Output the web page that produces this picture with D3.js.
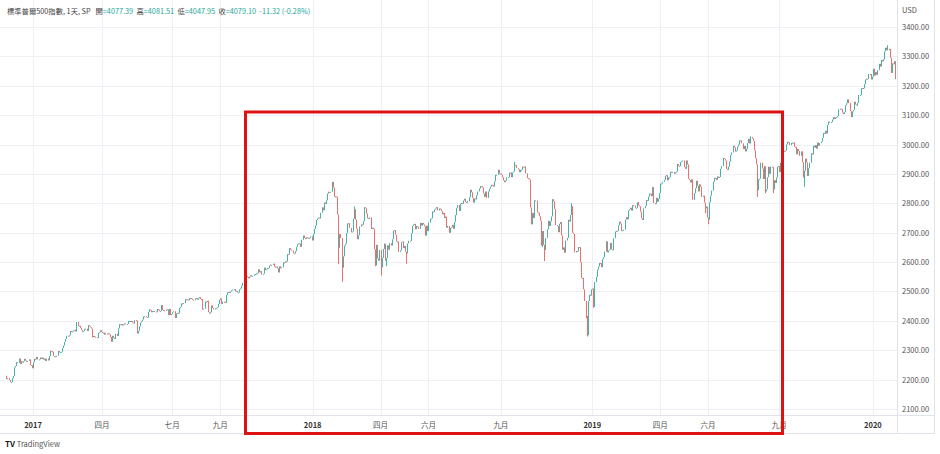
<!DOCTYPE html>
<html><head><meta charset="utf-8">
<script src="https://cdn.jsdelivr.net/npm/d3@7"></script>
<style>html,body{margin:0;padding:0;background:#fff;} svg{display:block;}</style>
</head><body>
<svg id="c" width="940" height="454"></svg>
<script>
// ---- DATA (S&P 500 daily closes, Nov 28 2016 – Jan 31 2020) ----
const monthKeys = [
  "2016-11","2016-12",
  "2017-01","2017-02","2017-03","2017-04","2017-05","2017-06","2017-07","2017-08","2017-09","2017-10","2017-11","2017-12",
  "2018-01","2018-02","2018-03","2018-04","2018-05","2018-06","2018-07","2018-08","2018-09","2018-10","2018-11","2018-12",
  "2019-01","2019-02","2019-03","2019-04","2019-05","2019-06","2019-07","2019-08","2019-09","2019-10","2019-11","2019-12",
  "2020-01"
];
const firstOpen = 2213.4;
const closes2016 = [
  [2201.7,2204.7,2198.8],
  [2191.1,2191.9,2204.7,2212.2,2241.4,2246.2,2259.5,2257.0,2271.7,2253.3,2262.0,2258.1,2262.5,2270.8,2265.2,2261.0,2263.8,2268.9,2249.9,2249.3,2238.8]
];
const closes2017 = [
  [2258.9,2270.8,2269.0,2277.0,2268.9,2268.9,2275.3,2270.4,2274.6,2267.9,2271.9,2263.7,2271.3,2265.2,2280.1,2298.4,2296.7,2294.7,2280.9,2278.9],
  [2279.6,2280.9,2297.4,2292.6,2293.1,2294.7,2307.9,2316.1,2328.3,2337.6,2349.3,2347.2,2351.2,2365.4,2362.8,2363.8,2367.3,2369.8,2363.6],
  [2396.0,2381.9,2383.1,2375.3,2368.4,2363.0,2364.9,2372.6,2373.5,2365.5,2385.3,2381.4,2378.3,2373.5,2344.0,2348.5,2346.0,2344.0,2341.6,2358.6,2361.1,2368.1,2362.7],
  [2358.8,2360.2,2353.0,2357.5,2355.5,2357.2,2353.8,2344.9,2329.0,2349.0,2342.2,2338.2,2355.8,2348.7,2374.2,2388.6,2387.5,2388.8,2384.2],
  [2388.3,2391.2,2388.1,2389.5,2399.3,2399.4,2396.9,2399.6,2394.4,2390.9,2402.3,2400.7,2357.0,2365.7,2381.7,2394.0,2398.4,2404.4,2415.1,2415.8,2412.9,2411.8],
  [2430.1,2439.1,2436.1,2429.3,2433.1,2433.8,2431.8,2429.4,2440.4,2437.9,2432.5,2433.2,2453.5,2437.0,2435.6,2434.5,2438.3,2439.1,2419.4,2440.7,2419.7,2423.4],
  [2429.0,2432.5,2409.8,2425.2,2427.4,2425.5,2443.3,2447.8,2459.3,2459.1,2460.6,2473.8,2473.5,2472.5,2469.9,2477.1,2477.8,2475.4,2472.1,2470.3],
  [2476.4,2477.6,2472.2,2476.8,2480.9,2474.9,2474.0,2438.2,2441.3,2465.8,2464.6,2468.1,2430.0,2425.6,2428.4,2452.5,2444.0,2439.0,2443.1,2444.2,2446.3,2457.6,2471.7],
  [2476.6,2457.9,2465.5,2465.1,2461.4,2488.1,2496.5,2498.4,2495.6,2500.2,2503.9,2506.7,2508.2,2500.6,2502.2,2496.7,2496.8,2507.0,2510.1,2519.4],
  [2529.1,2534.6,2537.7,2552.1,2549.3,2544.7,2550.6,2555.2,2550.9,2553.2,2557.6,2559.4,2561.3,2562.1,2575.2,2565.0,2569.1,2557.2,2560.4,2581.1,2573.0,2575.3],
  [2579.4,2579.9,2587.8,2591.1,2590.6,2594.4,2584.6,2582.3,2584.8,2578.9,2564.6,2585.6,2578.9,2582.1,2599.0,2597.1,2602.4,2601.4,2627.0,2626.1,2647.6],
  [2642.2,2639.4,2629.6,2629.3,2637.0,2651.5,2660.0,2664.1,2662.9,2652.0,2675.8,2690.2,2681.5,2679.2,2684.6,2683.3,2680.5,2682.6,2687.5,2673.6]
];
const closes2018 = [
  [2695.8,2713.1,2724.0,2743.2,2747.7,2751.3,2748.2,2767.6,2786.2,2776.4,2802.6,2798.0,2810.3,2833.0,2839.1,2837.5,2839.3,2872.9,2853.5,2822.4,2823.8],
  [2822.0,2762.1,2648.9,2695.1,2681.7,2581.0,2619.6,2656.0,2662.9,2698.6,2731.2,2732.2,2716.3,2701.3,2704.0,2747.3,2779.6,2744.3,2713.8],
  [2677.7,2691.3,2720.9,2728.1,2726.8,2739.0,2786.6,2783.0,2765.3,2749.5,2747.3,2752.0,2712.9,2716.9,2711.9,2643.7,2588.3,2658.6,2612.6,2605.0,2640.9],
  [2581.9,2614.5,2644.7,2662.8,2604.5,2613.2,2656.9,2642.2,2664.0,2656.3,2677.8,2706.4,2708.6,2693.1,2670.1,2670.3,2634.6,2639.4,2666.9,2669.9,2648.1],
  [2654.8,2635.7,2629.7,2663.4,2672.6,2671.9,2697.8,2723.1,2727.7,2730.1,2711.5,2722.5,2720.1,2713.0,2733.0,2724.4,2733.3,2727.8,2721.3,2689.9,2724.0,2705.3],
  [2734.6,2746.9,2748.8,2772.4,2770.4,2779.0,2782.0,2786.9,2775.6,2782.5,2779.7,2773.9,2762.6,2767.3,2749.8,2754.9,2717.1,2723.1,2699.6,2716.3,2718.4],
  [2726.7,2713.2,2736.6,2759.8,2784.2,2793.8,2774.0,2798.3,2801.3,2798.4,2809.6,2815.6,2804.5,2801.8,2807.0,2820.4,2846.1,2837.4,2818.8,2802.6,2816.3],
  [2813.4,2827.2,2840.4,2850.4,2858.5,2857.7,2853.6,2833.3,2821.9,2840.0,2818.4,2840.7,2850.1,2857.1,2863.0,2861.8,2857.0,2874.7,2896.7,2897.5,2914.0,2901.1,2901.5],
  [2896.7,2888.6,2878.1,2871.7,2877.1,2887.9,2888.9,2904.2,2905.0,2888.8,2904.3,2908.0,2930.8,2929.7,2919.4,2915.6,2906.0,2914.0,2914.0],
  [2924.6,2923.4,2925.5,2901.6,2885.6,2884.4,2880.3,2785.7,2728.4,2767.1,2750.8,2809.9,2809.2,2768.8,2767.8,2755.9,2740.7,2656.1,2705.6,2658.7,2641.3,2682.6,2711.7],
  [2740.4,2723.1,2738.3,2755.5,2814.0,2806.8,2781.0,2726.2,2722.2,2701.6,2730.2,2736.3,2690.7,2641.9,2649.9,2632.6,2673.5,2682.2,2743.8,2737.8,2760.2],
  [2790.4,2700.1,2696.0,2633.1,2637.7,2636.8,2651.1,2650.5,2600.0,2545.9,2546.2,2507.0,2467.4,2416.6,2351.1,2467.7,2488.8,2485.7,2506.9]
];
const closes2019 = [
  [2510.0,2447.9,2531.9,2549.7,2574.4,2585.0,2596.6,2596.3,2582.6,2610.3,2616.1,2636.0,2670.7,2632.9,2638.7,2642.3,2664.8,2643.9,2640.0,2681.1,2704.1],
  [2706.5,2706.1,2724.9,2737.7,2731.6,2706.1,2707.9,2709.8,2744.7,2753.0,2745.7,2775.6,2779.8,2784.7,2774.9,2793.9,2792.4,2784.5,2784.5],
  [2803.7,2792.8,2789.7,2771.5,2748.9,2743.1,2783.3,2791.5,2810.9,2808.5,2822.5,2832.9,2832.6,2824.2,2854.9,2800.7,2798.4,2818.5,2805.4,2815.4,2834.4],
  [2867.2,2867.2,2873.4,2879.4,2892.7,2895.8,2878.2,2888.2,2888.3,2907.4,2905.6,2907.1,2900.5,2905.0,2908.0,2933.7,2927.3,2926.2,2939.9,2943.0,2945.8],
  [2923.7,2917.5,2945.6,2932.5,2884.1,2879.4,2870.7,2881.4,2811.9,2834.4,2851.0,2876.3,2859.5,2840.2,2864.4,2856.3,2822.2,2826.1,2802.4,2783.0,2788.9,2752.1],
  [2744.5,2803.3,2826.2,2843.5,2873.3,2886.7,2885.7,2879.8,2891.6,2887.0,2889.7,2917.8,2926.5,2954.2,2950.5,2945.4,2917.4,2913.8,2924.9,2941.8],
  [2964.3,2973.0,2995.8,2990.4,2976.0,2979.6,2993.1,2999.9,3013.8,3014.3,3004.0,2984.4,2995.1,2976.6,2985.0,3005.5,3019.6,3003.7,3025.9,3021.0,3013.2,2980.4],
  [2953.6,2932.1,2844.7,2881.8,2884.0,2938.1,2918.7,2882.7,2926.3,2840.6,2847.6,2888.7,2924.4,2900.5,2924.4,2923.0,2847.1,2878.4,2869.2,2887.9,2924.6,2926.5],
  [2906.3,2937.8,2976.0,2978.7,2978.4,2979.4,3000.9,3009.6,3007.4,2998.0,3005.7,3006.7,3006.8,2992.1,2991.8,2966.6,2984.9,2977.6,2961.8,2976.7],
  [2940.3,2887.6,2910.6,2952.0,2938.8,2893.1,2919.4,2938.1,2970.3,2966.2,2995.7,2989.7,2998.0,2986.2,3006.7,2996.0,3004.5,3010.3,3022.6,3039.4,3036.9,3046.8,3037.6],
  [3066.9,3078.3,3074.6,3076.8,3085.2,3093.1,3087.0,3091.8,3094.0,3096.6,3120.5,3122.0,3120.2,3108.5,3103.5,3110.3,3133.6,3140.5,3153.6,3141.0],
  [3113.9,3093.2,3112.8,3117.4,3145.9,3136.0,3132.5,3141.6,3168.6,3168.8,3191.5,3192.5,3191.1,3205.4,3221.2,3224.0,3223.4,3240.0,3240.0,3221.3,3230.8]
];
const closes2020 = [
  [3257.9,3234.9,3246.3,3237.2,3253.1,3274.7,3265.4,3288.1,3283.2,3289.3,3316.8,3329.6,3320.8,3321.8,3325.5,3295.5,3243.6,3276.2,3273.4,3283.7,3225.5]
];
// visible intraday wicks that reach beyond the candle bodies: [month, session in month, price]
const wickLows = [
  ["2018-02",2,2593.1],["2018-02",5,2532.7],["2018-02",6,2581.0],["2018-03",16,2585.9],["2018-04",0,2553.8],
  ["2018-04",5,2586.3],["2018-05",2,2594.6],["2018-10",10,2749.2],["2018-10",18,2651.9],["2018-10",20,2603.5],
  ["2018-11",15,2631.1],["2018-12",14,2346.6],["2018-12",13,2408.6],["2019-01",1,2443.9],["2019-05",19,2766.6],
  ["2019-06",0,2728.8],["2019-08",2,2822.1],["2019-08",9,2834.2],["2019-10",2,2855.9],["2019-08",16,2834.9],["2020-01",20,3222.3]
];
const wickHighs = [
  ["2018-01",17,2873.0],["2018-02",16,2789.2],["2018-03",6,2786.6],["2018-12",0,2800.2],["2018-09",12,2940.9],
  ["2019-07",18,3027.9],["2020-01",13,3337.8]
];
const priceTicks = [2100,2200,2300,2400,2500,2600,2700,2800,2900,3000,3100,3200,3300,3400];
const timeTickMonths = ["2017-01","2017-04","2017-07","2017-09","2018-01","2018-04","2018-06","2018-09","2019-01","2019-04","2019-06","2019-09","2020-01"];
const timeTickLabels = ["2017","四月","七月","九月","2018","四月","六月","九月","2019","四月","六月","九月","2020"];
const headerParts = [
  {t:"標準普爾500指數, 1天, SP ", c:"#444"},
  {t:"  開", c:"#444"},{t:"=4077.39", c:"#26a69a"},
  {t:"  高", c:"#444"},{t:"=4081.51", c:"#26a69a"},
  {t:"  低", c:"#444"},{t:"=4047.95", c:"#26a69a"},
  {t:"  收", c:"#444"},{t:"=4079.10", c:"#26a69a"},
  {t:"  -11.32 (-0.28%)", c:"#26a69a"}
];

// ---- build bars ----
const monthlyCloses = [].concat(closes2016, closes2017, closes2018, closes2019, closes2020);
const bars = [];
const monthStart = {};
monthlyCloses.forEach((arr, mi) => {
  monthStart[monthKeys[mi]] = bars.length;
  arr.forEach(c => {
    const open = bars.length ? bars[bars.length-1].close : firstOpen;
    bars.push({i: bars.length, open, close: c, high: Math.max(open, c), low: Math.min(open, c)});
  });
});
wickLows.forEach(([m, k, v]) => { const b = bars[monthStart[m] + k]; b.low = Math.min(b.low, v); });
wickHighs.forEach(([m, k, v]) => { const b = bars[monthStart[m] + k]; b.high = Math.max(b.high, v); });

const svg = d3.select("#c");
const plotR = 897, plotB = 415, W = 935, axisB = 433;
const x = d3.scaleLinear().domain([-5.66, 799.6]).range([0, plotR]);
const y = d3.scaleLinear().domain([2100, 3400]).range([409, 27]);

const font = "'Noto Sans CJK TC','Noto Sans',sans-serif";

// grid
svg.append("g").selectAll("line").data(priceTicks).join("line")
  .attr("x1", 0).attr("x2", plotR)
  .attr("y1", d => Math.round(y(d)) + 0.5).attr("y2", d => Math.round(y(d)) + 0.5)
  .attr("stroke", "#eef0f5").attr("stroke-width", 1);
svg.append("g").selectAll("line").data(timeTickMonths).join("line")
  .attr("x1", d => Math.round(x(monthStart[d])) + 0.5).attr("x2", d => Math.round(x(monthStart[d])) + 0.5)
  .attr("y1", 0).attr("y2", plotB)
  .attr("stroke", "#eef0f5").attr("stroke-width", 1);

// candles
const up = "#45b3a8", down = "#ee6f6c";
const cg = svg.append("g");
cg.selectAll("rect").data(bars).join("rect")
  .attr("x", d => Math.round(x(d.i)))
  .attr("width", 1)
  .attr("y", d => y(d.high))
  .attr("height", d => Math.max(1, y(d.low) - y(d.high)))
  .attr("fill", d => d.close >= d.open ? up : down);

// frame lines
const frame = svg.append("g").attr("stroke", "#e0e3eb").attr("stroke-width", 1);
frame.append("line").attr("x1", plotR + 0.5).attr("x2", plotR + 0.5).attr("y1", 0).attr("y2", axisB);
frame.append("line").attr("x1", 0).attr("x2", W).attr("y1", plotB + 0.5).attr("y2", plotB + 0.5);
frame.append("line").attr("x1", 0).attr("x2", W).attr("y1", axisB + 0.5).attr("y2", axisB + 0.5);
frame.append("line").attr("x1", W - 0.5).attr("x2", W - 0.5).attr("y1", 0).attr("y2", axisB);

// price axis
svg.append("g").selectAll("text").data(priceTicks).join("text")
  .attr("x", 902).attr("y", d => y(d) + 3)
  .attr("font-family", font).attr("font-size", 7.5).attr("fill", "#555")
  .text(d => d3.format(".2f")(d));
svg.append("text").attr("x", 902).attr("y", 13).attr("font-family", font)
  .attr("font-size", 7.5).attr("fill", "#555").text("USD");

// time axis
svg.append("g").selectAll("text").data(timeTickMonths).join("text")
  .attr("x", d => x(monthStart[d])).attr("y", 428)
  .attr("text-anchor", "middle").attr("font-family", font).attr("font-size", 7.5)
  .attr("font-weight", (d, i) => /^\d+$/.test(timeTickLabels[i]) ? "bold" : "normal")
  .attr("fill", (d, i) => /^\d+$/.test(timeTickLabels[i]) ? "#333" : "#555")
  .text((d, i) => timeTickLabels[i]);

// header legend
const hdr = svg.append("text").attr("x", 7).attr("y", 14)
  .attr("font-family", font).attr("font-size", 7.3).attr("xml:space", "preserve");
hdr.selectAll("tspan").data(headerParts).join("tspan")
  .attr("fill", d => d.c).text(d => d.t);

// highlight box
svg.append("rect").attr("x", 245.5).attr("y", 112).attr("width", 537).attr("height", 321.5)
  .attr("fill", "none").attr("stroke", "#dd1313").attr("stroke-width", 3);

// logo
const logo = svg.append("text").attr("x", 5).attr("y", 447).attr("font-family", font);
logo.append("tspan").attr("font-size", 8).attr("font-weight", "bold").attr("fill", "#131722").text("TV ");
logo.append("tspan").attr("font-size", 7.5).attr("fill", "#555").text("TradingView");
</script>
</body></html>
